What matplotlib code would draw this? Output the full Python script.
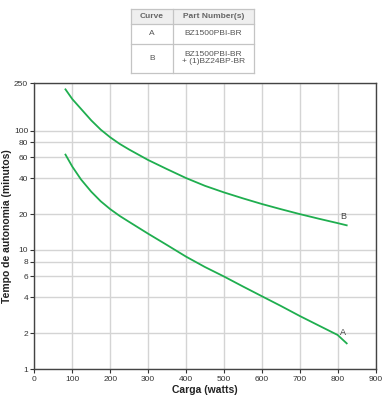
import matplotlib
matplotlib.use("Agg")
import matplotlib.pyplot as plt
from matplotlib.patches import Rectangle

plt.rcParams["font.family"] = ["Liberation Sans", "DejaVu Sans"]

# curve data
load_a = [82, 100, 123, 150, 175, 200, 225, 250, 300, 350, 400, 450, 500, 550, 600, 650, 700, 750, 800, 824]
time_a = [63, 50, 39, 30.8, 25.6, 22.0, 19.3, 17.2, 13.7, 11.0, 8.8, 7.2, 6.0, 4.95, 4.1, 3.4, 2.8, 2.33, 1.94, 1.65]
load_b = [82, 100, 150, 175, 200, 225, 250, 300, 350, 400, 450, 500, 550, 600, 650, 700, 750, 800, 824]
time_b = [222, 184, 122, 102, 88, 77.5, 69.5, 56.8, 47.6, 40.1, 34.5, 30.4, 27.1, 24.3, 22.0, 20.0, 18.3, 16.8, 16.1]

yticks = [1, 2, 4, 6, 8, 10, 20, 40, 60, 80, 100, 250]
xticks = list(range(0, 1000, 100))

table_head = ["Curve", "Part Number(s)"]
table_rows = [["A", "BZ1500PBI-BR"], ["B", "BZ1500PBI-BR\n+ (1)BZ24BP-BR"]]

W, H = 388, 400
fig = plt.figure(figsize=(W / 100, H / 100), dpi=100)
ax = fig.add_axes([34.4 / W, 1 - 369.3 / H, (375.5 - 34.4) / W, (369.3 - 83.2) / H])

green = "#1fae4f"
ax.plot(load_a, time_a, color=green, lw=1.3)
ax.plot(load_b, time_b, color=green, lw=1.3)
ax.text(load_a[-1] - 10, time_a[-1] * 1.12, "A", fontsize=6.5, color="#444", ha="center", va="bottom")
ax.text(load_b[-1] - 10, time_b[-1] * 1.08, "B", fontsize=6.5, color="#444", ha="center", va="bottom")

ax.set_yscale("log")
ax.set_xlim(0, 900)
ax.set_ylim(1, 250)
ax.set_xticks(xticks)
ax.set_xticklabels([str(v) for v in xticks])
ax.set_yticks(yticks)
ax.set_yticklabels([str(v) for v in yticks])
ax.minorticks_off()
ax.tick_params(labelsize=6, colors="#333", length=3, width=0.8, pad=1.5)
ax.grid(True, color="#d4d4d4", lw=1)
ax.set_axisbelow(True)
for s in ax.spines.values():
    s.set_color("#444")
    s.set_linewidth(1)
ax.set_xlabel("Carga (watts)", fontsize=7.5, fontweight="bold", color="#222", labelpad=2)
ax.set_ylabel("Tempo de autonomia (minutos)", fontsize=7.5, fontweight="bold", color="#222")
ax.yaxis.set_label_coords(-0.065, 0.5)

# part number table drawn in pixel coords
tax = fig.add_axes([0, 0, 1, 1])
tax.set_xlim(0, W)
tax.set_ylim(H, 0)
tax.axis("off")
x0, xm, x1 = 131, 173, 254
ys = [8.5, 24, 43.5, 72.5]
tax.add_patch(Rectangle((x0, ys[0]), x1 - x0, ys[1] - ys[0], fc="#efefef", ec="none"))
bc = "#c4c4c4"
for y in ys:
    tax.plot([x0, x1], [y, y], color=bc, lw=0.9)
for x in (x0, xm, x1):
    tax.plot([x, x], [ys[0], ys[-1]], color=bc, lw=0.9)
tax.text((x0 + xm) / 2, (ys[0] + ys[1]) / 2, table_head[0], fontsize=6, fontweight="bold",
         color="#666", ha="center", va="center")
tax.text((xm + x1) / 2, (ys[0] + ys[1]) / 2, table_head[1], fontsize=6, fontweight="bold",
         color="#666", ha="center", va="center")
for i, (c, p) in enumerate(table_rows):
    yc = (ys[i + 1] + ys[i + 2]) / 2
    tax.text((x0 + xm) / 2, yc, c, fontsize=6, color="#555", ha="center", va="center")
    tax.text((xm + x1) / 2, yc, p, fontsize=6, color="#555", ha="center", va="center",
             linespacing=1.1)

fig.savefig("out.png", dpi=100)
